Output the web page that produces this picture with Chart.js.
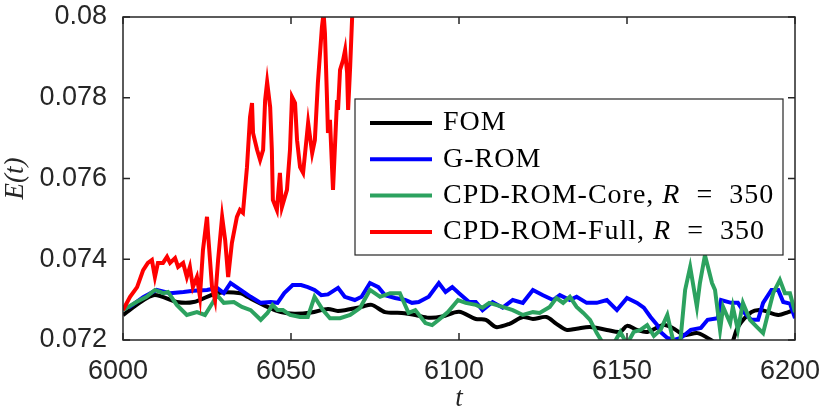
<!DOCTYPE html>
<html>
<head>
<meta charset="utf-8">
<style>
  html, body { margin: 0; padding: 0; background: #ffffff; }
  canvas { display: block; }
</style>
</head>
<body>
<canvas id="energyChart" width="830" height="415"></canvas>
<script src="https://cdn.jsdelivr.net/npm/chart.js"></script>
<script>
// series values (t, E(t))
const tFOM = [6000, 6009, 6016, 6021, 6028, 6035, 6037, 6043, 6047, 6051, 6056, 6061, 6064, 6071, 6074, 6078, 6083, 6087, 6091, 6095,
              6100, 6105, 6108, 6111, 6115, 6119, 6122, 6126, 6129, 6132, 6135, 6139, 6144, 6148, 6150, 6153, 6156, 6161, 6164, 6167,
              6171, 6175, 6178, 6181, 6183, 6187, 6190, 6195, 6198, 6200];
const eFOM = [0.07262, 0.07311, 0.07294, 0.07294, 0.07316, 0.07316, 0.07307, 0.07282, 0.07269, 0.07265, 0.07268, 0.07277, 0.07272, 0.07282, 0.07287, 0.07269, 0.07267, 0.07262, 0.07255, 0.07258,
              0.07270, 0.07252, 0.07250, 0.07232, 0.07240, 0.07257, 0.07252, 0.07257, 0.07240, 0.07225, 0.07228, 0.07232, 0.07225, 0.07220, 0.07235, 0.07225, 0.07220, 0.07237, 0.07228, 0.07212,
              0.07217, 0.07200, 0.07182, 0.07190, 0.07232, 0.07269, 0.07274, 0.07262, 0.07269, 0.07274];

const tGROM = [6000, 6002, 6006, 6010, 6014, 6018, 6021, 6025, 6028, 6030, 6032, 6035, 6038, 6041, 6044, 6046, 6048, 6050.5, 6053, 6055,
               6057, 6059, 6061, 6064, 6066, 6069, 6071, 6073.5, 6076, 6078, 6081, 6084, 6086, 6088, 6091, 6094, 6096, 6098, 6100, 6103,
               6105, 6107, 6110, 6113, 6116, 6119, 6122, 6125, 6128, 6130, 6133, 6135, 6138, 6141, 6144, 6147, 6150, 6153, 6155, 6157,
               6159, 6160, 6162, 6164, 6166, 6169, 6172, 6174, 6177, 6178, 6181, 6183, 6185, 6187, 6189, 6190.5, 6193, 6195, 6196.5, 6198.5, 6200];
const eGROM = [0.07280, 0.07282, 0.07306, 0.07324, 0.07316, 0.07319, 0.07322, 0.07324, 0.07329, 0.07316, 0.07341, 0.07324, 0.07307, 0.07292, 0.07294, 0.07292, 0.07316, 0.07336, 0.07336, 0.07331,
               0.07324, 0.07311, 0.07313, 0.07329, 0.07307, 0.07299, 0.07307, 0.07341, 0.07331, 0.07311, 0.07304, 0.07299, 0.07292, 0.07294, 0.07307, 0.07341, 0.07319, 0.07331, 0.07316, 0.07294,
               0.07294, 0.07274, 0.07294, 0.07280, 0.07299, 0.07292, 0.07324, 0.07311, 0.07299, 0.07311, 0.07299, 0.07307, 0.07292, 0.07292, 0.07299, 0.07274, 0.07304, 0.07292, 0.07280, 0.07257,
               0.07237, 0.07220, 0.07205, 0.07200, 0.07205, 0.07225, 0.07230, 0.07250, 0.07254, 0.07299, 0.07292, 0.07292, 0.07267, 0.07250, 0.07250, 0.07292, 0.07324, 0.07324, 0.07294, 0.07290, 0.07254];

const tCore = [6000, 6004, 6007, 6009.5, 6012, 6013.4, 6016, 6019, 6022, 6024.4, 6026.8, 6028, 6030, 6033, 6035.4, 6038, 6041, 6043, 6044.5, 6046,
               6047.6, 6049.7, 6052.7, 6055, 6057, 6059.5, 6061.6, 6064.6, 6067.6, 6070.5, 6073.5, 6076.5, 6079.5, 6082.4, 6085, 6087, 6090, 6092, 6094, 6096.7,
               6099.7, 6102, 6105, 6107, 6109, 6113, 6116, 6119, 6122, 6124, 6127, 6129, 6131, 6133, 6135, 6137, 6139, 6141, 6143, 6146,
               6148, 6150, 6152, 6154, 6156, 6158, 6160, 6162, 6163.7, 6165.8, 6167.3, 6168.8, 6170.8, 6171.7, 6173.2, 6174.1, 6175.3, 6176.2, 6177.7, 6178.6,
               6180.7, 6181.5, 6183, 6184.5, 6186.6, 6188.7, 6190.5, 6192, 6193.5, 6195.5, 6197, 6198.5, 6200];
const eCore = [0.07274, 0.07294, 0.07307, 0.07324, 0.07316, 0.07319, 0.07287, 0.07262, 0.07269, 0.07262, 0.07294, 0.07311, 0.07292, 0.07294, 0.07282, 0.07274, 0.07250, 0.07267, 0.07287, 0.07274,
               0.07274, 0.07262, 0.07257, 0.07257, 0.07307, 0.07274, 0.07254, 0.07254, 0.07262, 0.07279, 0.07324, 0.07307, 0.07316, 0.07316, 0.07267, 0.07274, 0.07242, 0.07237, 0.07250, 0.07269,
               0.07299, 0.07292, 0.07287, 0.07280, 0.07292, 0.07282, 0.07274, 0.07262, 0.07269, 0.07267, 0.07282, 0.07304, 0.07292, 0.07307, 0.07282, 0.07267, 0.07250, 0.07217, 0.07190, 0.07190,
               0.07220, 0.07190, 0.07220, 0.07225, 0.07237, 0.07210, 0.07225, 0.07262, 0.07200, 0.07190, 0.07324, 0.07381, 0.07282, 0.07341, 0.07410, 0.07381, 0.07341, 0.07324, 0.07225, 0.07282,
               0.07242, 0.07282, 0.07225, 0.07292, 0.07250, 0.07232, 0.07217, 0.07267, 0.07316, 0.07349, 0.07316, 0.07316, 0.07269];

const tFull = [6000, 6002.1, 6004.2, 6006, 6007.4, 6008.6, 6009.5, 6010.4, 6011.9, 6013.1, 6014, 6015.5, 6016.4, 6017.9, 6019, 6019.9, 6020.8, 6022, 6022.9, 6023.8,
               6025, 6025.3, 6026.5, 6027.4, 6028.3, 6029.5, 6030.4, 6031.3, 6032.4, 6033.9, 6034.8, 6035.7, 6036.9, 6037.8, 6038.4, 6038.7, 6039.9, 6040.8, 6041.7, 6042.3,
               6042.9, 6043.8, 6044.3, 6044.6, 6045.8, 6046.7, 6047.3, 6048.8, 6049.7, 6050.3, 6051.2, 6051.8, 6052.7, 6053.6, 6054.8, 6055.1, 6056.3, 6057.1, 6058, 6059.2,
               6059.7, 6060.1, 6060.7, 6061, 6061.6, 6062.5, 6063.7, 6064, 6064.6, 6065.5, 6066.1, 6066.7, 6067, 6067.6, 6068.2, 6068.8];
const eFull = [0.07274, 0.07307, 0.07331, 0.07373, 0.07391, 0.07398, 0.07356, 0.07391, 0.07391, 0.07406, 0.07391, 0.07403, 0.07381, 0.07391, 0.07356, 0.07381, 0.07331, 0.07356, 0.07307, 0.07423,
               0.07505, 0.07465, 0.07331, 0.07299, 0.07398, 0.07505, 0.07448, 0.07356, 0.07440, 0.07505, 0.07522, 0.07515, 0.07628, 0.07752, 0.07787, 0.07713, 0.07671, 0.07646, 0.07671, 0.07794,
               0.07839, 0.07777, 0.07671, 0.07547, 0.07522, 0.07614, 0.07529, 0.07572, 0.07671, 0.07802, 0.07787, 0.07695, 0.07628, 0.07614, 0.07713, 0.07738, 0.07663, 0.07695, 0.07837, 0.07975,
               0.08010, 0.07960, 0.07802, 0.07713, 0.07745, 0.07572, 0.07794, 0.07770, 0.07869, 0.07893, 0.07918, 0.07861, 0.07770, 0.07876, 0.08000, 0.08080];

const seriesNames = ['FOM', 'G-ROM', 'CPD-ROM-Core, R = 350', 'CPD-ROM-Full, R = 350'];
const seriesColors = ['#000000', '#0000ff', '#2ca25f', '#ff0000'];
const seriesT = [tFOM, tGROM, tCore, tFull];
const seriesE = [eFOM, eGROM, eCore, eFull];

const xTickValues = [6000, 6050, 6100, 6150, 6200];
const xTickLabels = ['6000', '6050', '6100', '6150', '6200'];
const yTickValues = [0.072, 0.074, 0.076, 0.078, 0.08];
const yTickLabels = ['0.072', '0.074', '0.076', '0.078', '0.08'];

const axisColor = '#262626';

// box round the axes, ticks pointing inward (matlab style)
const framePlugin = {
  id: 'frame',
  afterDatasetsDraw(chart) {
    const { ctx, chartArea: a, scales } = chart;
    const len = 7;
    ctx.save();
    ctx.strokeStyle = axisColor;
    ctx.lineWidth = 1.5;
    ctx.strokeRect(a.left, a.top, a.right - a.left, a.bottom - a.top);
    ctx.beginPath();
    xTickValues.forEach(v => {
      const px = scales.x.getPixelForValue(v);
      ctx.moveTo(px, a.bottom); ctx.lineTo(px, a.bottom - len);
      ctx.moveTo(px, a.top); ctx.lineTo(px, a.top + len);
    });
    yTickValues.forEach(v => {
      const py = scales.y.getPixelForValue(v);
      ctx.moveTo(a.left, py); ctx.lineTo(a.left + len, py);
      ctx.moveTo(a.right, py); ctx.lineTo(a.right - len, py);
    });
    ctx.stroke();
    ctx.restore();
  }
};

// legend box inside the axes
const boxLegendPlugin = {
  id: 'boxLegend',
  afterDraw(chart, args, opts) {
    const { ctx } = chart;
    const b = opts.box;
    ctx.save();
    ctx.fillStyle = '#ffffff';
    ctx.fillRect(b.x, b.y, b.w, b.h);
    ctx.strokeStyle = axisColor;
    ctx.lineWidth = 1.2;
    ctx.strokeRect(b.x, b.y, b.w, b.h);
    ctx.textBaseline = 'middle';
    ctx.fillStyle = '#000000';
    ctx.letterSpacing = '1px';
    chart.data.datasets.forEach((ds, i) => {
      const y = b.y + opts.firstRow + i * opts.rowGap;
      ctx.strokeStyle = ds.borderColor;
      ctx.lineWidth = 4;
      ctx.beginPath();
      ctx.moveTo(b.x + 15, y);
      ctx.lineTo(b.x + 77, y);
      ctx.stroke();
      let x = b.x + 88;
      const parts = ds.label.split(/(R)(?= = )/);
      parts.forEach(p => {
        ctx.font = (p === 'R' ? 'italic ' : '') + '28px "Liberation Serif", serif';
        const txt = p.replace(' = ', '  =  ');
        ctx.fillText(txt, x, y);
        x += ctx.measureText(txt).width;
      });
    });
    ctx.restore();
  }
};

const datasets = seriesNames.map((name, i) => ({
  label: name,
  data: seriesT[i].map((t, k) => ({ x: t, y: seriesE[i][k] })),
  borderColor: seriesColors[i],
  borderWidth: 4,
  pointRadius: 0,
  tension: i === 0 ? 0.3 : 0,
  clip: 0,
  order: seriesNames.length - 1 - i
}));

new Chart(document.getElementById('energyChart'), {
  type: 'line',
  data: { datasets: datasets },
  options: {
    responsive: false,
    animation: false,
    layout: { padding: { left: 0, right: 35, top: 17, bottom: 0 } },
    plugins: {
      legend: { display: false },
      tooltip: { enabled: false },
      boxLegend: { box: { x: 355, y: 99, w: 428, h: 156 }, firstRow: 24, rowGap: 36.3 }
    },
    scales: {
      x: {
        type: 'linear',
        min: 6000,
        max: 6200,
        afterBuildTicks: s => { s.ticks = xTickValues.map(v => ({ value: v })); },
        afterFit: s => { s.height = 75; s.paddingLeft = 0; s.paddingRight = 0; },
        ticks: {
          callback: (v, i) => xTickLabels[i],
          font: { family: '"Liberation Sans", Arial, sans-serif', size: 27 },
          color: axisColor,
          padding: 15,
          labelOffset: -5,
          maxRotation: 0,
          autoSkip: false
        },
        grid: { display: false, drawTicks: false },
        border: { display: false },
        title: {
          display: true,
          text: 't',
          color: axisColor,
          font: { family: '"Liberation Serif", serif', style: 'italic', size: 27 },
          padding: { top: 0, bottom: 0 }
        }
      },
      y: {
        min: 0.072,
        max: 0.08,
        afterBuildTicks: s => { s.ticks = yTickValues.map(v => ({ value: v })); },
        afterFit: s => { s.width = 123; s.paddingTop = 0; s.paddingBottom = 0; },
        ticks: {
          callback: (v, i) => yTickLabels[i],
          font: { family: '"Liberation Sans", Arial, sans-serif', size: 27 },
          color: axisColor,
          padding: 16,
          autoSkip: false
        },
        grid: { display: false, drawTicks: false },
        border: { display: false },
        title: {
          display: true,
          text: 'E(t)',
          color: axisColor,
          font: { family: '"Liberation Serif", serif', style: 'italic', size: 27 },
          padding: { top: 0, bottom: 0 }
        }
      }
    }
  },
  plugins: [framePlugin, boxLegendPlugin]
});
</script>
</body>
</html>
